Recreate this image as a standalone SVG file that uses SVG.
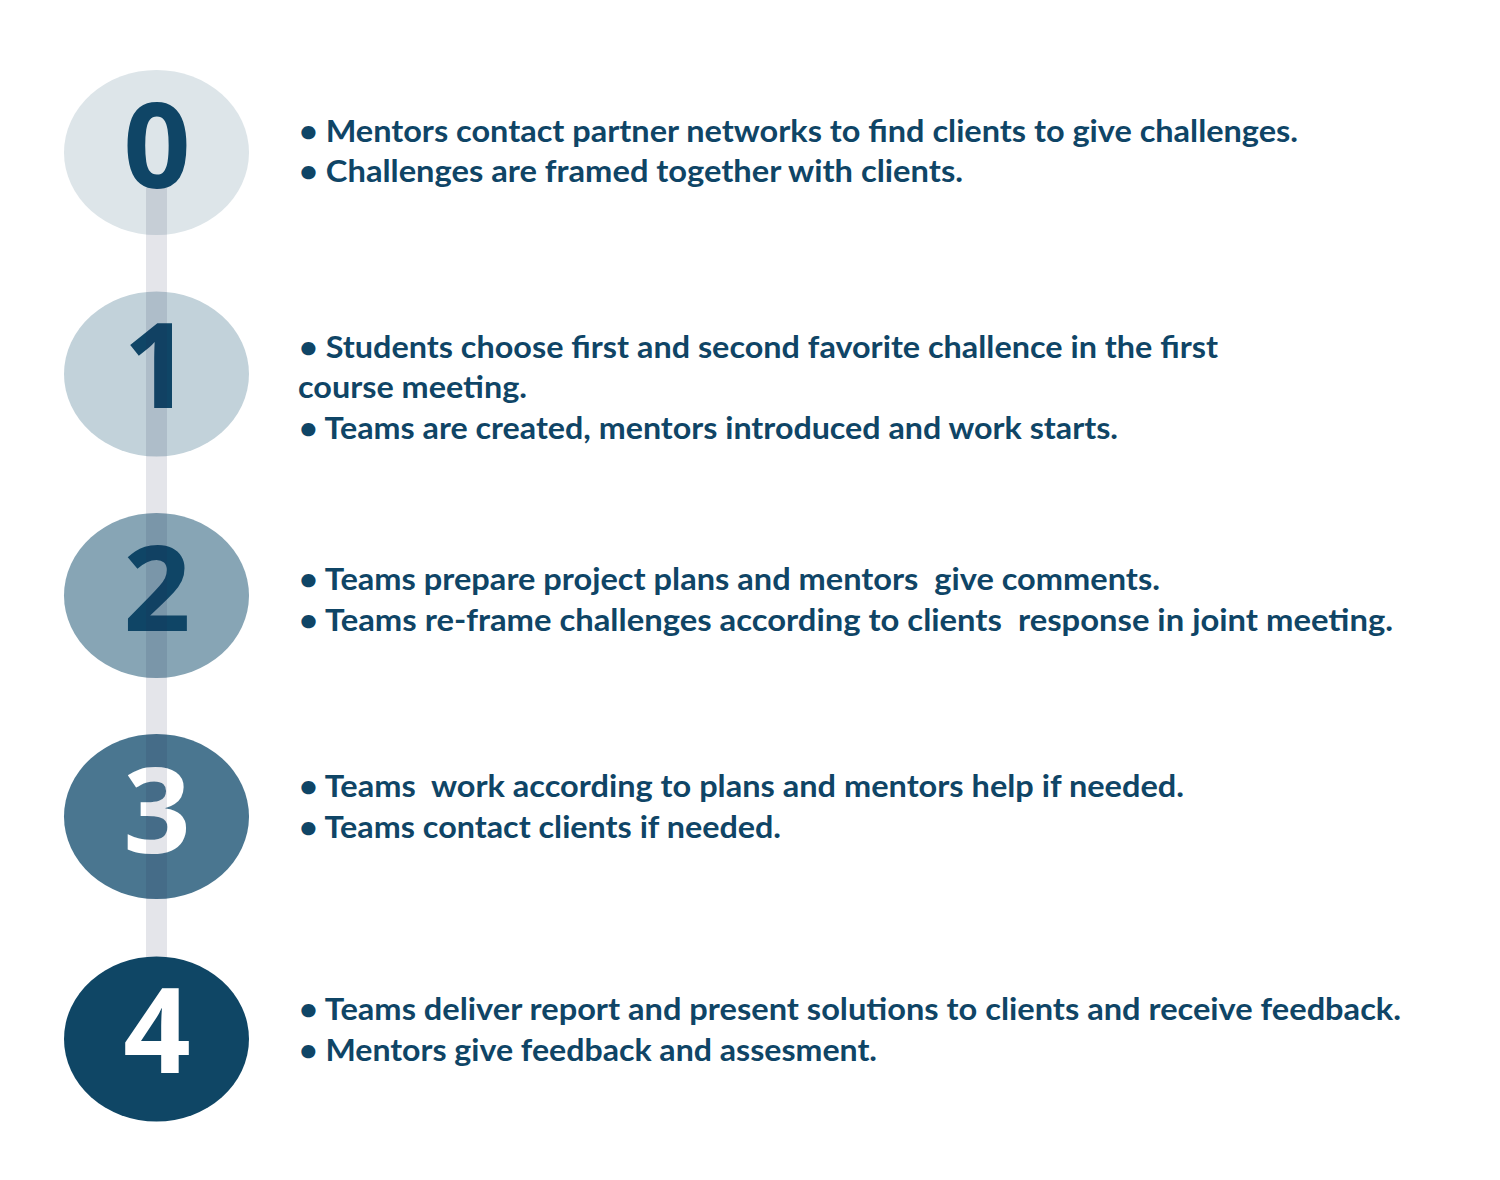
<svg xmlns="http://www.w3.org/2000/svg" width="1500" height="1180" viewBox="0 0 1500 1180">
<style>
.t{font-family:Lato,"Open Sans","Liberation Sans",sans-serif;font-weight:bold;font-size:30px;fill:#0f4566;white-space:pre}
.d{font-family:"Open Sans",Lato,"Liberation Sans",sans-serif;font-weight:bold;font-size:118px;text-anchor:middle}
</style>
<rect width="1500" height="1180" fill="#ffffff"/>
<g id="step0">
<ellipse cx="156.5" cy="152.5" rx="92.5" ry="82.5" fill="#dde5e9"/>
<text class="d" x="157" y="188" fill="#0f4566">0</text>
</g>
<g id="step1">
<ellipse cx="156.5" cy="374" rx="92.5" ry="82.5" fill="#c2d2da"/>
<text class="d" x="157" y="408" fill="#0f4566">1</text>
</g>
<g id="step2">
<ellipse cx="156.5" cy="595.5" rx="92.5" ry="82.5" fill="#87a5b5"/>
<text class="d" x="157" y="631" fill="#0f4566">2</text>
</g>
<g id="step3">
<ellipse cx="156.5" cy="816.5" rx="92.5" ry="82.5" fill="#4a7690"/>
<text class="d" x="157" y="853" fill="#ffffff">3</text>
</g>
<g id="connectors">
<rect x="146" y="188" width="21" height="780" fill="#1e2a50" fill-opacity="0.12"/>
</g>
<g id="step4">
<ellipse cx="156.5" cy="1039" rx="92.5" ry="82.5" fill="#0f4665"/>
<text class="d" x="157" y="1073" fill="#ffffff">4</text>
</g>
<g id="text0">
<text class="t" x="299" y="142" textLength="999" lengthAdjust="spacingAndGlyphs">• Mentors contact partner networks to find clients to give challenges.</text>
<text class="t" x="299" y="182" textLength="664" lengthAdjust="spacingAndGlyphs">• Challenges are framed together with clients.</text>
</g>
<g id="text1">
<text class="t" x="299" y="358" textLength="919" lengthAdjust="spacingAndGlyphs">• Students choose first and second favorite challence in the first</text>
<text class="t" x="298" y="398" textLength="229" lengthAdjust="spacingAndGlyphs">course meeting.</text>
<text class="t" x="299" y="439" textLength="819" lengthAdjust="spacingAndGlyphs">• Teams are created, mentors introduced and work starts.</text>
</g>
<g id="text2">
<text class="t" x="299" y="590" textLength="861" lengthAdjust="spacingAndGlyphs">• Teams prepare project plans and mentors  give comments.</text>
<text class="t" x="299" y="631" textLength="1094" lengthAdjust="spacingAndGlyphs">• Teams re-frame challenges according to clients  response in joint meeting.</text>
</g>
<g id="text3">
<text class="t" x="299" y="797" textLength="885" lengthAdjust="spacingAndGlyphs">• Teams  work according to plans and mentors help if needed.</text>
<text class="t" x="299" y="838" textLength="482" lengthAdjust="spacingAndGlyphs">• Teams contact clients if needed.</text>
</g>
<g id="text4">
<text class="t" x="299" y="1020" textLength="1102" lengthAdjust="spacingAndGlyphs">• Teams deliver report and present solutions to clients and receive feedback.</text>
<text class="t" x="299" y="1061" textLength="578" lengthAdjust="spacingAndGlyphs">• Mentors give feedback and assesment.</text>
</g>
</svg>
